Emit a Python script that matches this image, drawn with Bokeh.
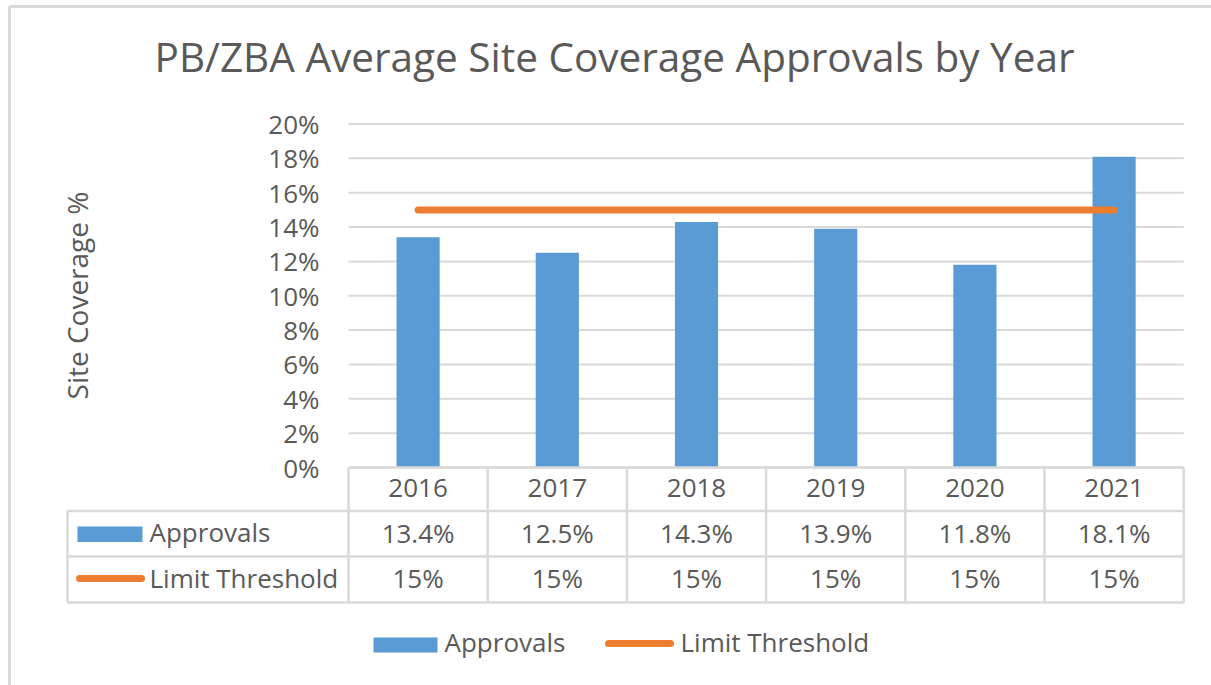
from math import pi
from bokeh.plotting import figure
from bokeh.models import Range1d
from bokeh.core.properties import value
from bokeh.embed import file_html
from bokeh.resources import INLINE

# ---------------- data ----------------
years = ["2016", "2017", "2018", "2019", "2020", "2021"]
approvals = [0.134, 0.125, 0.143, 0.139, 0.118, 0.181]
threshold = [0.15, 0.15, 0.15, 0.15, 0.15, 0.15]
approval_labels = ["13.4%", "12.5%", "14.3%", "13.9%", "11.8%", "18.1%"]
threshold_labels = ["15%", "15%", "15%", "15%", "15%", "15%"]
y_ticks = [0.0, 0.02, 0.04, 0.06, 0.08, 0.10, 0.12, 0.14, 0.16, 0.18, 0.20]
y_tick_labels = ["0%", "2%", "4%", "6%", "8%", "10%", "12%", "14%", "16%", "18%", "20%"]
series_names = ["Approvals", "Limit Threshold"]
title_text = "PB/ZBA Average Site Coverage Approvals by Year"
y_label = "Site Coverage %"

# ---------------- layout (pixels of the reference picture) ----------------
W, H = 1211, 685
OFF = 0                       # bokeh's page template removes the body margin
COL_LEFT, COL_W = 348.0, 139.2
Y_ZERO, PX_PER_UNIT = 467.0, 1717.5
BLUE, ORANGE = "#5B9BD5", "#ED7D31"
GRID, TXT = "#D9D9D9", "#595959"
FONT = value("Open Sans")
FS = "26px"


def X(px):
    return (px - COL_LEFT) / COL_W


def Y(py):
    return (Y_ZERO - py) / PX_PER_UNIT


p = figure(width=W, height=H, output_backend="svg", toolbar_location=None,
           x_range=Range1d(X(OFF), X(OFF + W)), y_range=Range1d(Y(OFF + H), Y(OFF)),
           x_axis_type=None, y_axis_type=None, min_border=0,
           background_fill_color="white", border_fill_color="white")
p.outline_line_color = None

n = len(years)
centers = [i + 0.5 for i in range(n)]

# outer chart border (top + left visible)
p.segment(x0=[X(9), X(9)], y0=[Y(6), Y(6)], x1=[X(9), X(W)],
          y1=[Y(H), Y(6)], line_color=GRID, line_width=3)

# horizontal gridlines
p.segment(x0=[0] * len(y_ticks), x1=[n] * len(y_ticks), y0=y_ticks, y1=y_ticks,
          line_color=GRID, line_width=2)

# bars and threshold line
p.vbar(x=centers, top=approvals, bottom=0, width=0.31, fill_color=BLUE, line_color=None)
p.line(x=centers, y=threshold, line_color=ORANGE, line_width=7, line_cap="round")

# y tick labels
p.text(x=[X(319)] * len(y_ticks), y=y_ticks, text=y_tick_labels, text_align="right",
       text_baseline="middle", text_font=FONT, text_font_size=FS, text_color=TXT)

# axis title
p.text(x=[X(76)], y=[Y(295)], text=[y_label], angle=pi / 2, text_align="center",
       text_baseline="middle", text_font=FONT, text_font_size="28px", text_color=TXT)

# chart title
p.text(x=[X(614)], y=[Y(56)], text=[title_text], text_align="center",
       text_baseline="middle", text_font=FONT, text_font_size="40.5px", text_color=TXT)

# ---------------- data table ----------------
ROW_TOP, ROW1, ROW2, ROW_BOT = 467.0, 510.5, 556.0, 602.0
TABLE_LEFT = 67.0
hx0 = [0, X(TABLE_LEFT), X(TABLE_LEFT), X(TABLE_LEFT)]
hx1 = [n, n, n, n]
hy = [Y(ROW_TOP), Y(ROW1), Y(ROW2), Y(ROW_BOT)]
p.segment(x0=hx0, x1=hx1, y0=hy, y1=hy, line_color=GRID, line_width=2.5)
vx = list(range(n + 1))
p.segment(x0=vx, x1=vx, y0=[Y(ROW_TOP)] * (n + 1), y1=[Y(ROW_BOT)] * (n + 1),
          line_color=GRID, line_width=2.5)
p.segment(x0=[X(TABLE_LEFT)], x1=[X(TABLE_LEFT)], y0=[Y(ROW1)], y1=[Y(ROW_BOT)],
          line_color=GRID, line_width=2.5)

cell_style = dict(text_align="center", text_baseline="middle", text_font=FONT,
                  text_font_size=FS, text_color=TXT)
p.text(x=centers, y=[Y(487.5)] * n, text=years, **cell_style)
p.text(x=centers, y=[Y(532)] * n, text=approval_labels, **cell_style)
p.text(x=centers, y=[Y(577)] * n, text=threshold_labels, **cell_style)

label_style = dict(text_align="left", text_baseline="middle", text_font=FONT,
                   text_font_size=FS, text_color=TXT)
p.text(x=[X(149), X(149)], y=[Y(531), Y(577)], text=series_names, **label_style)
# legend keys inside the table
p.quad(left=[X(77)], right=[X(142)], top=[Y(526)], bottom=[Y(541.5)],
       fill_color=BLUE, line_color=None)
p.line(x=[X(79), X(141)], y=[Y(578), Y(578)], line_color=ORANGE, line_width=7,
       line_cap="round")

# ---------------- bottom legend ----------------
p.quad(left=[X(373)], right=[X(437)], top=[Y(637)], bottom=[Y(652)],
       fill_color=BLUE, line_color=None)
p.line(x=[X(608), X(670)], y=[Y(643), Y(643)], line_color=ORANGE, line_width=7,
       line_cap="round")
p.text(x=[X(444), X(680)], y=[Y(641.5), Y(641.5)], text=series_names, **label_style)

open("out.html", "w").write(file_html(p, INLINE))
